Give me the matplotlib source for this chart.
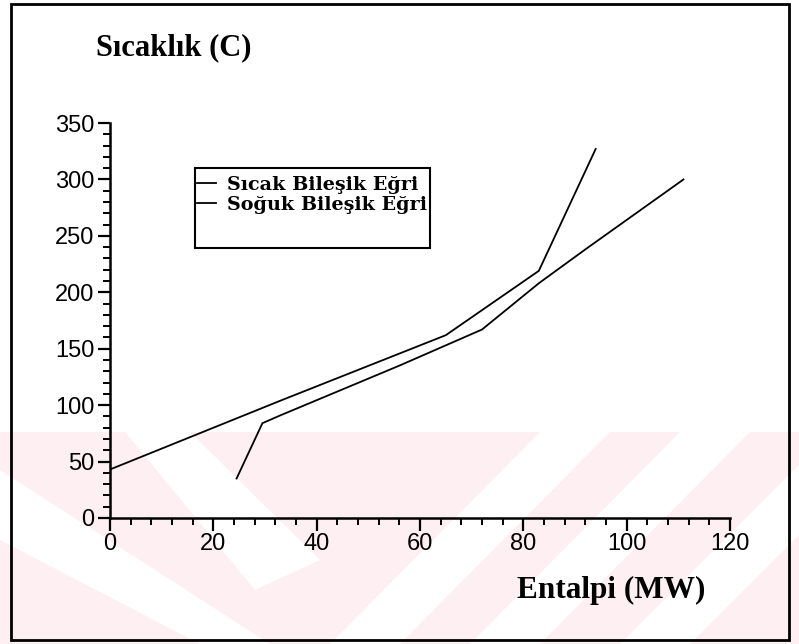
import matplotlib
matplotlib.use("Agg")
import matplotlib.pyplot as plt
from matplotlib.patches import Rectangle, Polygon
from matplotlib.ticker import MultipleLocator

# hot composite curve (enthalpy MW, temperature C)
hot_h = [0, 33, 65, 83, 94]
hot_t = [43, 104, 162, 219, 327]
# cold composite curve
cold_h = [24.5, 29.5, 33, 56, 72, 83, 92, 111]
cold_t = [35, 84, 91, 135, 167, 208, 238, 300]

hot_label = "Sıcak Bileşik Eğri"
cold_label = "Soğuk Bileşik Eğri"
x_label = "Entalpi (MW)"
y_label = "Sıcaklık (C)"

W, H = 799, 644
fig = plt.figure(figsize=(W / 100, H / 100), dpi=100)

def fx(x):
    return x / W

def fy(y):
    return 1 - y / H

# faint watermark in the lower part of the page: pink field, white bands
pink = "#fdeff2"
fig.patches.append(Rectangle((0, 0), 1, fy(432), transform=fig.transFigure,
                             facecolor=pink, edgecolor="none", zorder=-20))
white_bands = [
    [(0, 470), (0, 540), (200, 644), (270, 644)],
    [(125, 432), (190, 432), (320, 560), (255, 590)],
    [(330, 644), (400, 644), (610, 432), (540, 432)],
    [(470, 644), (540, 644), (750, 432), (680, 432)],
    [(620, 644), (690, 644), (799, 535), (799, 465)],
]
for s in white_bands:
    fig.patches.append(Polygon([(fx(a), fy(b)) for a, b in s], closed=True,
                               transform=fig.transFigure, facecolor="white",
                               edgecolor="none", zorder=-10))

ax = fig.add_axes([fx(110), fy(518), fx(730) - fx(110), fy(123) - fy(518)])
ax.patch.set_alpha(0)

ax.plot(hot_h, hot_t, color="black", lw=1.3, label=hot_label)
ax.plot(cold_h, cold_t, color="black", lw=1.3, label=cold_label)

ax.set_xlim(0, 120)
ax.set_ylim(0, 350)
ax.spines["top"].set_visible(False)
ax.spines["right"].set_visible(False)
ax.spines["left"].set_linewidth(1.8)
ax.spines["bottom"].set_linewidth(1.8)

ax.xaxis.set_major_locator(MultipleLocator(20))
ax.xaxis.set_minor_locator(MultipleLocator(4))
ax.yaxis.set_major_locator(MultipleLocator(50))
ax.yaxis.set_minor_locator(MultipleLocator(10))
ax.tick_params(which="major", length=9, width=1.6, direction="out", pad=2,
               labelsize=17)
ax.tick_params(which="minor", length=5, width=1.4, direction="out")
for lab in ax.get_xticklabels() + ax.get_yticklabels():
    lab.set_family("Liberation Sans")

serif = "Liberation Serif"
fig.text(fx(96), fy(48), y_label, family=serif, weight="bold", fontsize=22,
         va="center", ha="left")
fig.text(fx(611), fy(590), x_label, family=serif, weight="bold", fontsize=22.5,
         va="center", ha="center")

# legend box
box = Rectangle((fx(195), fy(248)), fx(430) - fx(195), fy(168) - fy(248),
                transform=fig.transFigure, facecolor="white",
                edgecolor="black", lw=1.5, zorder=3, clip_on=False)
ax.add_patch(box)
leg = ax.legend(loc="upper left", bbox_to_anchor=(fx(193), fy(172)),
                bbox_transform=fig.transFigure, frameon=False,
                borderaxespad=0, borderpad=0.2,
                handlelength=1.0, handletextpad=0.55, labelspacing=0.1,
                prop={"family": "DejaVu Serif", "weight": "bold",
                      "size": 13.8})
leg.set_zorder(4)

# outer page frame
fig.patches.append(Rectangle((fx(11), fy(640)), fx(789) - fx(11),
                             fy(4) - fy(640), transform=fig.transFigure,
                             facecolor="none", edgecolor="black", lw=2,
                             zorder=5))

fig.savefig("out.png", dpi=100)
